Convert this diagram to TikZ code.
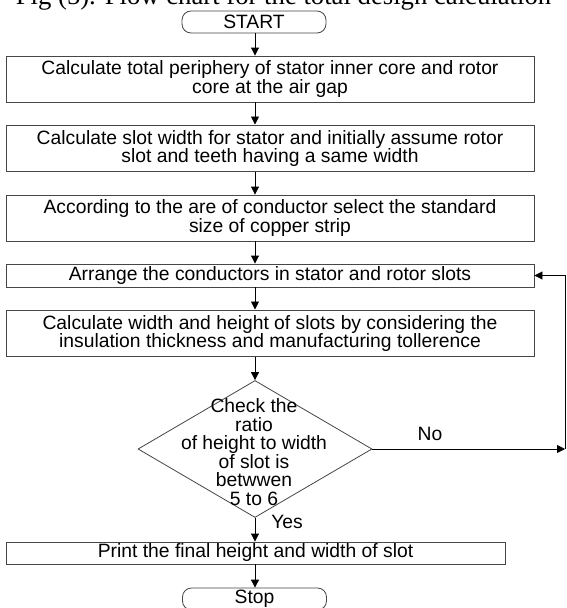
\documentclass[tikz,border=0pt]{standalone}
\usepackage{fontspec}
\setmainfont{Liberation Sans}
\newfontfamily\capfont{Liberation Serif}
\usetikzlibrary{arrows.meta,shapes.geometric}
\definecolor{boxc}{RGB}{70,70,70}
\newcommand\boxfont{\fontsize{19.3}{18.5}\selectfont}
\begin{document}
\begin{tikzpicture}[x=1pt,y=-1pt,
  box/.style={draw=boxc, line width=0.9pt, minimum height=46pt, minimum width=528pt, inner sep=0pt, align=center, font=\boxfont},
  term/.style={draw=boxc, line width=0.8pt, rounded corners=9pt, minimum width=144pt, minimum height=22pt, inner sep=0pt, font=\boxfont},
  arr/.style={-{Triangle[length=8pt,width=8pt]}, line width=0.9pt},
  lbl/.style={font=\boxfont, inner sep=0pt}]
\useasboundingbox (0,0) rectangle (566,608);
\clip (0,0) rectangle (566,608);
\fill[white] (0,0) rectangle (566,608);
\node[inner sep=0pt, font=\capfont\fontsize{26.7}{28}\selectfont, anchor=base] (cap) at (283.5,4) {Fig (5). Flow chart for the total design calculation};
\node[term] (start) at (254,22) {START};
\node[box] (b1) at (270,79) {Calculate total periphery of stator inner core and rotor\\core at the air gap};
\node[box, minimum height=46.7pt] (b2) at (270,148.3) {Calculate slot width for stator and initially assume rotor\\slot and teeth having a same width};
\node[box] (b3) at (270,218) {According to the are of conductor select the standard\\size of copper strip};
\node[box, minimum height=23pt] (b4) at (270,275.5) {Arrange the conductors in stator and rotor slots};
\node[box, minimum height=46.7pt] (b5) at (270,333.3) {Calculate width and height of slots by considering the\\insulation thickness and manufacturing tollerence};
\node[draw=boxc, diamond, line width=0.8pt, minimum width=234pt, minimum height=137pt, inner sep=0pt] (dia) at (255,449) {};
\node[lbl, align=center] (dtext) at (254,452) {Check the\\ratio\\of height to width\\of slot is\\betwwen\\5 to 6};
\node[box, minimum width=499pt, minimum height=22pt] (b6) at (255.5,553) {Print the final height and width of slot};
\node[term] (stop) at (254.5,599) {Stop};
\node[lbl, anchor=base] (no) at (430,440.7) {No};
\node[lbl, anchor=base] (yes) at (287,528) {Yes};
\coordinate (ax) at (255,0);
\coordinate (c1) at (565,449);
\draw[arr] (start.south -| ax) -- (b1.north -| ax);
\draw[arr] (b1.south -| ax) -- (b2.north -| ax);
\draw[arr] (b2.south -| ax) -- (b3.north -| ax);
\draw[arr] (b3.south -| ax) -- (b4.north -| ax);
\draw[arr] (b4.south -| ax) -- (b5.north -| ax);
\draw[arr] (b5.south -| ax) -- (dia.north);
\draw[arr] (dia.south) -- (b6.north -| ax);
\draw[arr] (b6.south -| ax) -- (stop.north -| ax);
\draw[arr] (dia.east) -- (c1);
\draw[arr] (c1) |- (b4.east);
\end{tikzpicture}
\end{document}
